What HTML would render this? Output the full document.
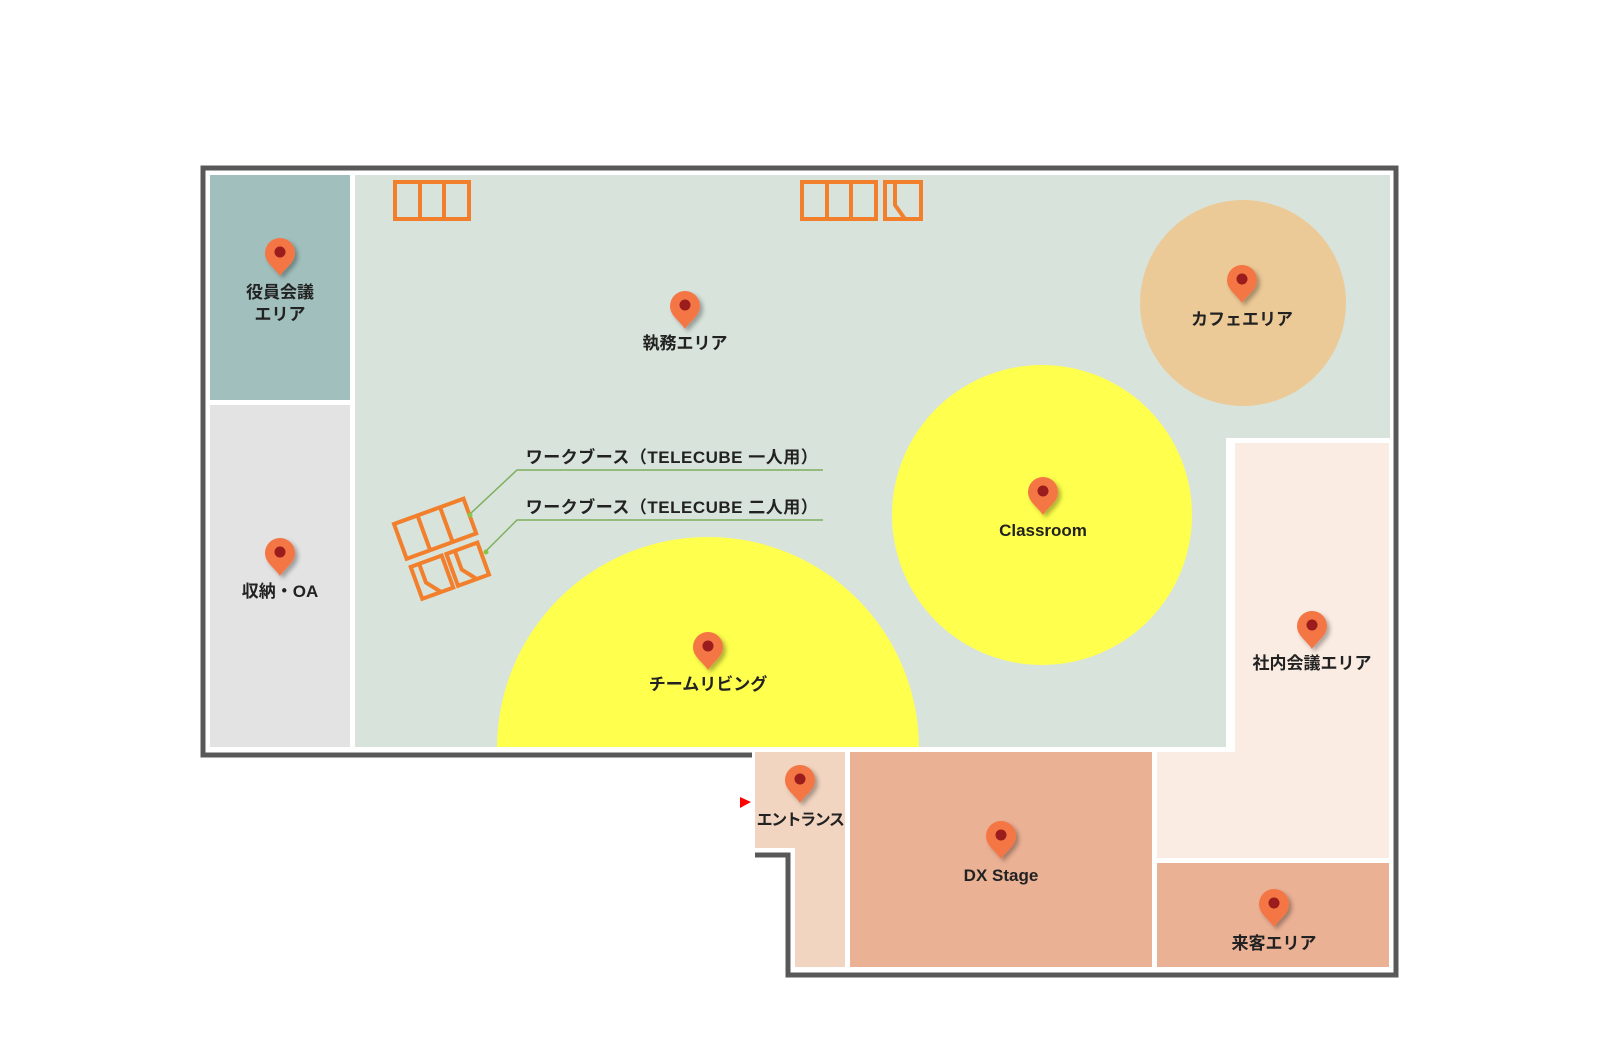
<!DOCTYPE html>
<html><head><meta charset="utf-8"><style>
html,body{margin:0;padding:0;background:#fff;}
svg{display:block;}
text{font-family:"Liberation Sans","Noto Sans CJK JP",sans-serif;font-weight:bold;fill:#222;text-anchor:middle;}
</style></head><body>
<svg width="1600" height="1050" viewBox="0 0 1600 1050" xmlns="http://www.w3.org/2000/svg">
<defs>
<filter id="sh" x="-50%" y="-50%" width="200%" height="200%"><feDropShadow dx="3" dy="3" stdDeviation="2" flood-color="#000" flood-opacity="0.3"/></filter>
<clipPath id="gclip"><rect x="355" y="175" width="871" height="572"/></clipPath>
<g id="pin"><path d="M0,22 C-5,14 -15,9 -15,-1 A15,15 0 1 1 15,-1 C15,9 5,14 0,22 Z" fill="#f47645"/><circle cx="0" cy="-2" r="5.5" fill="#9a1a1a"/></g>
</defs>
<path d="M752,755 L203,755 L203,168 L1396,168 L1396,975 L788,975 L788,855 L755,855" fill="none" stroke="#585858" stroke-width="5"/>
<rect x="210" y="175" width="140" height="225" fill="#a1c0bd"/>
<rect x="210" y="405" width="140" height="342" fill="#e3e3e3"/>
<rect x="355" y="175" width="1035" height="263" fill="#d8e3dc"/>
<rect x="355" y="175" width="871" height="572" fill="#d8e3dc"/>
<rect x="1235" y="443" width="154" height="310" fill="#fbece3"/>
<rect x="1157" y="752" width="232" height="106" fill="#fbece3"/>
<rect x="1157" y="863" width="232" height="104" fill="#ebb195"/>
<rect x="850" y="752" width="302" height="215" fill="#ebb195"/>
<path d="M755,752 H845 V967 H795 V848 H755 Z" fill="#f2d5c1"/>
<circle cx="1243" cy="303" r="103" fill="#ecca97"/>
<circle cx="1042" cy="515" r="150" fill="#ffff4d"/>
<circle cx="708" cy="748" r="211" fill="#ffff4d" clip-path="url(#gclip)"/>
<g fill="none" stroke="#f27f2c" stroke-width="4">
<rect x="395" y="182" width="74" height="37"/><line x1="420" y1="182" x2="420" y2="219"/><line x1="444" y1="182" x2="444" y2="219"/>
<rect x="802" y="182" width="74" height="37"/><line x1="827" y1="182" x2="827" y2="219"/><line x1="851" y1="182" x2="851" y2="219"/>
<rect x="885" y="182" width="36" height="37"/><path d="M895,182 V205 L905,219"/>
<g transform="translate(394,524) rotate(-20)">
<rect x="0" y="0" width="74" height="37"/><line x1="25" y1="0" x2="25" y2="37"/><line x1="49" y1="0" x2="49" y2="37"/>
<rect x="1" y="46" width="33" height="34"/><path d="M10,46 V66 L21,80"/>
<rect x="39" y="46" width="33" height="34"/><path d="M48,46 V66 L59,80"/>
</g>
</g>
<g fill="none" stroke="#7fae5c" stroke-width="1.5">
<polyline points="470,514 517,470 823,470"/>
<polyline points="486,551 517,520 823,520"/>
</g>
<circle cx="470" cy="515" r="2.5" fill="#8bc34a"/><circle cx="486" cy="552" r="2.5" fill="#8bc34a"/>
<text x="672" y="463" font-size="17" letter-spacing="0.5">ワークブース（TELECUBE 一人用）</text>
<text x="672" y="513" font-size="17" letter-spacing="0.5">ワークブース（TELECUBE 二人用）</text>
<polygon points="740,797 751,802 740,808" fill="#f00"/>
<g filter="url(#sh)">
<use href="#pin" x="280" y="254"/>
<use href="#pin" x="280" y="554"/>
<use href="#pin" x="685" y="307"/>
<use href="#pin" x="1242" y="281"/>
<use href="#pin" x="1043" y="493"/>
<use href="#pin" x="708" y="648"/>
<use href="#pin" x="1312" y="627"/>
<use href="#pin" x="800" y="781"/>
<use href="#pin" x="1001" y="837"/>
<use href="#pin" x="1274" y="905"/>
</g>
<g font-size="17">
<text x="280" y="298">役員会議</text>
<text x="280" y="320">エリア</text>
<text x="280" y="597">収納・OA</text>
<text x="685" y="349">執務エリア</text>
<text x="1242" y="325">カフェエリア</text>
<text x="1043" y="536">Classroom</text>
<text x="708" y="690">チームリビング</text>
<text x="1312" y="669">社内会議エリア</text>
<text x="800" y="825" font-size="16" letter-spacing="-1.5">エントランス</text>
<text x="1001" y="881">DX Stage</text>
<text x="1274" y="949">来客エリア</text>
</g>
</svg>
</body></html>
